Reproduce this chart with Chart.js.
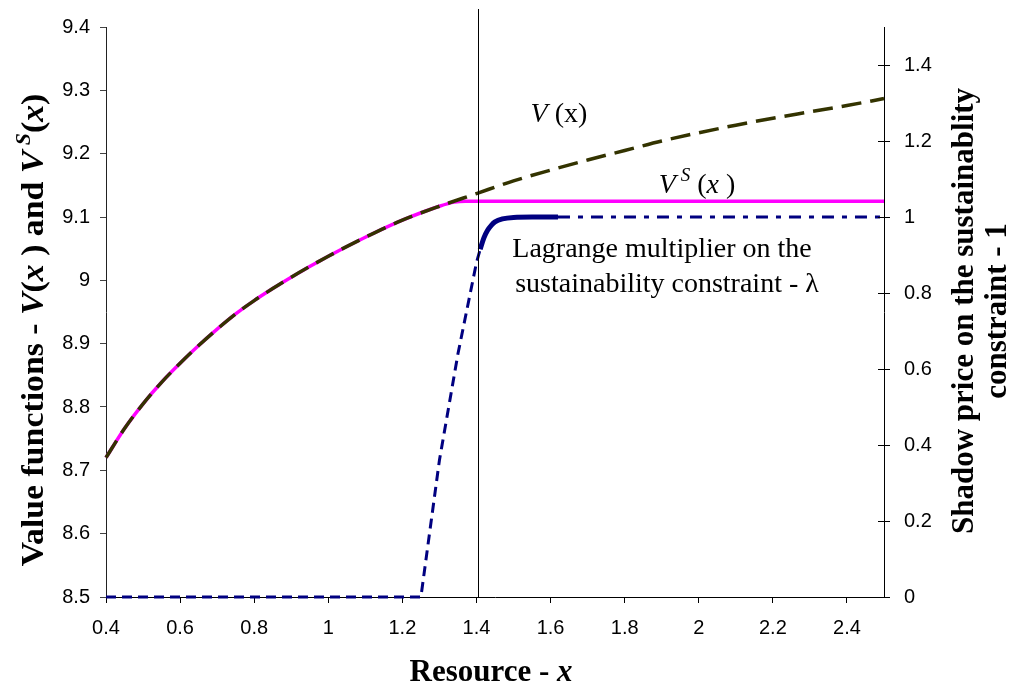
<!DOCTYPE html>
<html>
<head>
<meta charset="utf-8">
<script src="https://cdn.jsdelivr.net/npm/chart.js@4.4.1/dist/chart.umd.min.js"></script>
<style>
  html, body { margin: 0; padding: 0; background: #fff; }
  #wrap { width: 1013px; height: 685px; }
</style>
</head>
<body>
<div id="wrap"><canvas id="chart" width="1013" height="685"></canvas></div>
<script>
// Value function V(x) (unconstrained)
const vX      = [0.4, 0.45, 0.5, 0.55, 0.6, 0.65, 0.7, 0.75, 0.8, 0.85, 0.9, 1.0, 1.1, 1.2, 1.3, 1.4, 1.5, 1.6, 1.7, 1.8, 1.9, 2.0, 2.1, 2.2, 2.3, 2.4, 2.5];
const vValues = [8.720, 8.766, 8.805, 8.839, 8.869, 8.897, 8.923, 8.947, 8.968, 8.987, 9.005, 9.038, 9.068, 9.095, 9.117, 9.137, 9.157, 9.174, 9.190, 9.205, 9.220, 9.233, 9.245, 9.256, 9.266, 9.276, 9.287];

// Value function under the sustainability constraint V^S(x)
const vsX      = [0.4, 0.45, 0.5, 0.55, 0.6, 0.65, 0.7, 0.75, 0.8, 0.85, 0.9, 1.0, 1.1, 1.2, 1.3, 1.34, 1.37, 1.4, 2.5];
const vsValues = [8.720, 8.766, 8.805, 8.839, 8.869, 8.897, 8.923, 8.947, 8.968, 8.987, 9.005, 9.038, 9.068, 9.095, 9.117, 9.1235, 9.125, 9.125, 9.125];

// Lagrange multiplier (right axis), split by line style
const lamLowX   = [0.4, 1.25, 1.30, 1.35, 1.40, 1.41];
const lamLow    = [0, 0, 0.36, 0.64, 0.88, 0.915];
const lamMidX   = [1.41, 1.42, 1.43, 1.44, 1.45, 1.47, 1.50, 1.55, 1.62];
const lamMid    = [0.915, 0.945, 0.965, 0.978, 0.987, 0.995, 0.999, 1.0, 1.0];
const lamHighX  = [1.62, 2.5];
const lamHigh   = [1.0, 1.0];

// Tick values
const xTicks  = [0.4, 0.6, 0.8, 1.0, 1.2, 1.4, 1.6, 1.8, 2.0, 2.2, 2.4];
const yTicks  = [8.5, 8.6, 8.7, 8.8, 8.9, 9.0, 9.1, 9.2, 9.3, 9.4];
const y2Ticks = [0, 0.2, 0.4, 0.6, 0.8, 1.0, 1.2, 1.4];

// Threshold resource level (vertical line)
const thresholdX = 1.405;

const pts = (xs, ys) => xs.map((x, i) => ({ x: x, y: ys[i] }));
const fmt = v => String(Number(v.toFixed(1)));

const SERIF = '"Liberation Serif", "Times New Roman", serif';
const SANS = '"Liberation Sans", Arial, sans-serif';

// Draw a sequence of text runs with mixed fonts on one baseline, centred at (0,0) of current transform
function drawRuns(ctx, runs) {
  let total = 0;
  runs.forEach(r => { ctx.font = r.font; r.w = ctx.measureText(r.t).width; total += r.w; });
  let x = -total / 2;
  runs.forEach(r => {
    ctx.font = r.font;
    ctx.fillText(r.t, x, r.dy || 0);
    x += r.w;
  });
}

const decorations = {
  id: 'decorations',
  afterDatasetsDraw(chart) {
    const ctx = chart.ctx;
    const area = chart.chartArea;
    const xs = chart.scales.x;
    const y2 = chart.scales.y2;
    ctx.save();

    // vertical threshold line
    const px = Math.round(xs.getPixelForValue(thresholdX)) + 0.5;
    ctx.strokeStyle = '#000';
    ctx.lineWidth = 1;
    ctx.beginPath();
    ctx.moveTo(px, area.top - 18);
    ctx.lineTo(px, area.bottom);
    ctx.stroke();

    // inner half of right-axis tick marks
    ctx.beginPath();
    y2.ticks.forEach(t => {
      const py = Math.round(y2.getPixelForValue(t.value)) + 0.5;
      ctx.moveTo(area.right - 6, py);
      ctx.lineTo(area.right, py);
    });
    ctx.stroke();

    ctx.fillStyle = '#000';
    ctx.textBaseline = 'alphabetic';

    // curve labels
    const it = 'italic 28px ' + SERIF;
    const rg = '28px ' + SERIF;
    ctx.save();
    ctx.translate(559, 122);
    drawRuns(ctx, [{ t: 'V', font: it }, { t: ' (x)', font: rg }]);
    ctx.restore();

    ctx.save();
    ctx.translate(697, 193);
    drawRuns(ctx, [{ t: 'V', font: it }, { t: ' S', font: 'italic 19px ' + SERIF, dy: -12 },
                   { t: ' (', font: rg }, { t: 'x', font: it }, { t: ' )', font: rg }]);
    ctx.restore();

    ctx.font = '28px ' + SERIF;
    ctx.textAlign = 'center';
    ctx.fillText('Lagrange multiplier on the', 662, 257);
    ctx.fillText('sustainability constraint - \u03bb', 667, 292);
    ctx.textAlign = 'left';

    // axis titles
    const b = 'bold 31px ' + SERIF;
    const bi = 'italic bold 31px ' + SERIF;
    ctx.save();
    ctx.translate(491, 681);
    drawRuns(ctx, [{ t: 'Resource - ', font: b }, { t: 'x', font: bi }]);
    ctx.restore();

    ctx.save();
    ctx.translate(43, 330);
    ctx.rotate(-Math.PI / 2);
    ctx.scale(1.09, 1);
    drawRuns(ctx, [
      { t: 'Value functions - ', font: b }, { t: 'V', font: bi }, { t: '(', font: b },
      { t: 'x', font: bi }, { t: ' ) and ', font: b }, { t: 'V', font: bi },
      { t: ' S', font: 'italic bold 20px ' + SERIF, dy: -13 }, { t: '(', font: b },
      { t: 'x', font: bi }, { t: ')', font: b }
    ]);
    ctx.restore();

    ctx.save();
    ctx.translate(973, 311);
    ctx.rotate(-Math.PI / 2);
    drawRuns(ctx, [{ t: 'Shadow price on the sustainablity', font: b }]);
    ctx.translate(0, 33);
    drawRuns(ctx, [{ t: 'constraint - 1', font: b }]);
    ctx.restore();

    ctx.restore();
  }
};

const blue = '#000080';

new Chart(document.getElementById('chart'), {
  type: 'scatter',
  data: {
    datasets: [
      { label: 'V(x)', data: pts(vX, vValues), yAxisID: 'y', showLine: true, cubicInterpolationMode: 'monotone',
        borderColor: '#333300', borderWidth: 3.5, borderDash: [20, 9], pointRadius: 0, clip: 6 },
      { label: 'VS(x)', data: pts(vsX, vsValues), yAxisID: 'y', showLine: true, cubicInterpolationMode: 'monotone',
        borderColor: '#ff00ff', borderWidth: 3.5, pointRadius: 0, clip: 6 },
      { label: 'lambda', data: pts(lamLowX, lamLow), yAxisID: 'y2', showLine: true,
        borderColor: blue, borderWidth: 3, borderDash: [10, 6], pointRadius: 0, clip: 6 },
      { label: 'lambda', data: pts(lamMidX, lamMid), yAxisID: 'y2', showLine: true, cubicInterpolationMode: 'monotone',
        borderColor: blue, borderWidth: 5, pointRadius: 0, clip: 6 },
      { label: 'lambda', data: pts(lamHighX, lamHigh), yAxisID: 'y2', showLine: true,
        borderColor: blue, borderWidth: 3, borderDash: [12, 8, 5, 8], pointRadius: 0, clip: 6 }
    ]
  },
  options: {
    responsive: false,
    animation: false,
    layout: { padding: { top: 27, left: 0, right: 0, bottom: 0 } },
    plugins: { legend: { display: false }, tooltip: { enabled: false } },
    scales: {
      x: {
        type: 'linear', min: 0.4, max: 2.5,
        afterBuildTicks: s => { s.ticks = xTicks.map(v => ({ value: v })); },
        afterFit: s => { s.height = 88; },
        ticks: { callback: fmt, font: { family: SANS, size: 20 }, color: '#000', padding: 13, maxRotation: 0 },
        grid: { drawOnChartArea: false, tickLength: 6, color: '#000' },
        border: { color: '#000', width: 1 }
      },
      y: {
        type: 'linear', position: 'left', min: 8.5, max: 9.4,
        afterBuildTicks: s => { s.ticks = yTicks.map(v => ({ value: v })); },
        afterFit: s => { s.width = 106; },
        ticks: { callback: fmt, font: { family: SANS, size: 20 }, color: '#000', padding: 10 },
        grid: { drawOnChartArea: false, tickLength: 6, color: '#444' },
        border: { color: '#222', width: 1 }
      },
      y2: {
        type: 'linear', position: 'right', min: 0, max: 1.5,
        afterBuildTicks: s => { s.ticks = y2Ticks.map(v => ({ value: v })); },
        afterFit: s => { s.width = 129; },
        ticks: { callback: fmt, font: { family: SANS, size: 20 }, color: '#000', padding: 14 },
        grid: { drawOnChartArea: false, tickLength: 6, color: '#000' },
        border: { color: '#000', width: 1 }
      }
    }
  },
  plugins: [decorations]
});
</script>
</body>
</html>
